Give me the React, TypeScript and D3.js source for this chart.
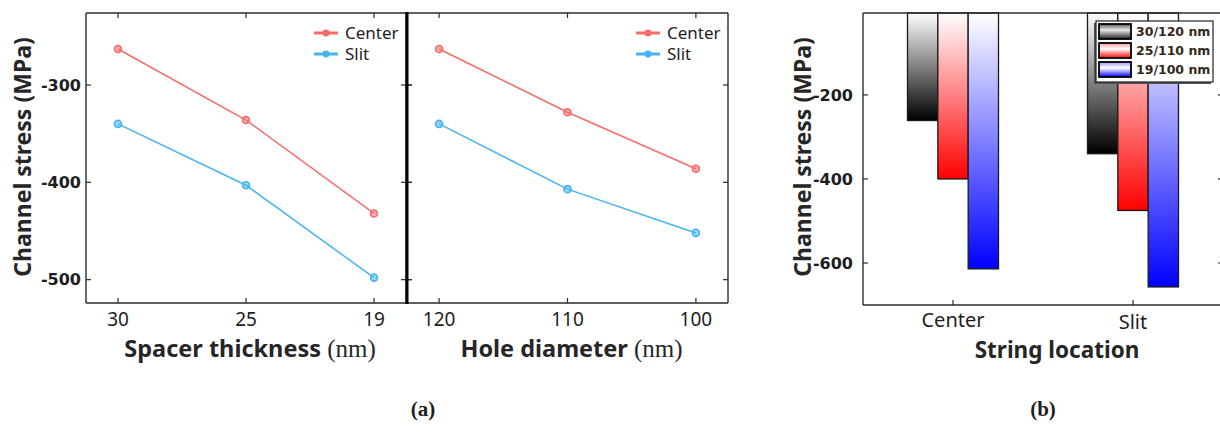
import React from "react";
import * as d3 from "d3";

// (a) channel stress vs spacer thickness / hole diameter
const spacerTicks = ["30", "25", "19"];
const holeTicks = ["120", "110", "100"];
const centerBySpacer = [-263, -336, -432];
const slitBySpacer = [-340, -403, -498];
const centerByHole = [-263, -328, -386];
const slitByHole = [-340, -407, -452];
const lineTicks = [-300, -400, -500];

// (b) channel stress by string location
const locations = ["Center", "Slit"];
const structures = ["30/120 nm", "25/110 nm", "19/100 nm"];
const centerStress = [-261, -400, -614];
const slitStress = [-340, -475, -657];
const barTicks = [-200, -400, -600];

const RED = "#f76b6b";
const BLUE = "#44b4f3";
const barColors = ["#000000", "#ff0000", "#0000ff"];
const AXIS = "#2b2b2b";
const TEXT = "#1e1e1e";
const sans = "'Noto Sans', 'Open Sans', sans-serif";
const wide = "'DejaVu Sans', Verdana, sans-serif";
const serif = "'Liberation Serif', 'DejaVu Serif', serif";

const A_TOP = 13;
const A_BOTTOM = 303;
const yA = d3.scaleLinear().domain([-524, -226]).range([A_BOTTOM, A_TOP]);

type LineProps = {
  left: number;
  right: number;
  cats: string[];
  center: number[];
  slit: number[];
  title: string;
  showLeft: boolean;
};

const LinePanel = ({ left, right, cats, center, slit, title, showLeft }: LineProps) => {
  const x = d3.scalePoint().domain(cats).range([left, right]).padding(0.25);
  const line = d3
    .line<number>()
    .x((_, i) => x(cats[i]) as number)
    .y((d) => yA(d));
  const marker = d3.symbol().type(d3.symbolCircle).size(38)();
  const series = [
    { name: "Center", values: center, color: RED },
    { name: "Slit", values: slit, color: BLUE },
  ];
  const mid = (left + right) / 2 + 4;

  return (
    <g>
      {/* frame */}
      <line x1={left} x2={right} y1={A_BOTTOM} y2={A_BOTTOM} stroke={AXIS} strokeWidth={1.4} />
      <line x1={left} x2={right} y1={A_TOP} y2={A_TOP} stroke={AXIS} strokeWidth={1.4} />
      {showLeft && <line x1={left} x2={left} y1={A_TOP} y2={A_BOTTOM} stroke={AXIS} strokeWidth={1.4} />}
      <line x1={right} x2={right} y1={A_TOP} y2={A_BOTTOM} stroke={AXIS} strokeWidth={1.4} />

      {cats.map((c) => (
        <g key={c}>
          <line x1={x(c)} x2={x(c)} y1={A_BOTTOM} y2={A_BOTTOM - 5} stroke={AXIS} strokeWidth={1.2} />
          <line x1={x(c)} x2={x(c)} y1={A_TOP} y2={A_TOP + 5} stroke={AXIS} strokeWidth={1.2} />
          <text x={x(c)} y={326} textAnchor="middle" fontFamily={sans} fontSize={19} fill={TEXT}>
            {c}
          </text>
        </g>
      ))}

      {lineTicks.map((t) => (
        <g key={t}>
          <line x1={left} x2={left + 5} y1={yA(t)} y2={yA(t)} stroke={AXIS} strokeWidth={1.2} />
          <line x1={right - 5} x2={right + (showLeft ? 6 : 0)} y1={yA(t)} y2={yA(t)} stroke={AXIS} strokeWidth={1.2} />
          {showLeft && (
            <text x={left - 5} y={yA(t)} dy="0.36em" textAnchor="end" fontFamily={wide} fontWeight="bold" fontSize={16} fill={TEXT}>
              {t}
            </text>
          )}
        </g>
      ))}

      {series.map((s) => (
        <g key={s.name}>
          <path d={line(s.values) as string} fill="none" stroke={s.color} strokeWidth={1.5} />
          {s.values.map((v, i) => (
            <path
              key={i}
              d={marker as string}
              transform={`translate(${x(cats[i])},${yA(v)})`}
              fill={s.color}
              fillOpacity={0.5}
              stroke={s.color}
              strokeWidth={1.7}
            />
          ))}
        </g>
      ))}

      {/* legend */}
      {series.map((s, i) => (
        <g key={s.name} transform={`translate(${right - 92},${33 + i * 21})`}>
          <line x1={0} x2={24} y1={0} y2={0} stroke={s.color} strokeWidth={3} />
          <path d={marker as string} transform="translate(12,0)" fill={s.color} />
          <text x={31} y={0} dy="0.35em" fontFamily={sans} fontSize={17} fill={TEXT}>
            {s.name}
          </text>
        </g>
      ))}

      <text x={mid} y={357} textAnchor="middle" fontFamily={sans} fontWeight="bold" fontSize={23.5} fill="#262626">
        {title}
        <tspan fontFamily={serif} fontWeight="normal" fontSize={25}>(nm)</tspan>
      </text>
    </g>
  );
};

const B_LEFT = 863;
const B_RIGHT = 1223;
const B_TOP = 13;
const B_BOTTOM = 305;

const BarPanel = () => {
  const x = d3.scalePoint().domain(locations).range([B_LEFT, B_RIGHT]).padding(0.5);
  const inner = d3.scaleBand().domain(structures).range([-45.5, 45.5]);
  const y = d3.scaleLinear().domain([-700, -5]).range([B_BOTTOM, B_TOP]);
  const rows = [centerStress, slitStress];

  return (
    <g>
      {locations.map((loc, li) =>
        structures.map((s, si) => (
          <rect
            key={loc + s}
            x={(x(loc) as number) + (inner(s) as number)}
            y={B_TOP}
            width={inner.bandwidth()}
            height={y(rows[li][si]) - B_TOP}
            fill={`url(#bar${si})`}
            stroke="#1a1a1a"
            strokeWidth={1.3}
          />
        ))
      )}

      <line x1={B_LEFT} x2={B_RIGHT} y1={B_BOTTOM} y2={B_BOTTOM} stroke={AXIS} strokeWidth={1.4} />
      <line x1={B_LEFT} x2={B_RIGHT} y1={B_TOP} y2={B_TOP} stroke={AXIS} strokeWidth={1.4} />
      <line x1={B_LEFT} x2={B_LEFT} y1={B_TOP} y2={B_BOTTOM} stroke={AXIS} strokeWidth={1.4} />
      <line x1={B_RIGHT} x2={B_RIGHT} y1={B_TOP} y2={B_BOTTOM} stroke={AXIS} strokeWidth={1.4} />

      {barTicks.map((t) => (
        <g key={t}>
          <line x1={B_LEFT} x2={B_LEFT + 5} y1={y(t)} y2={y(t)} stroke={AXIS} strokeWidth={1.2} />
          <line x1={B_RIGHT - 5} x2={B_RIGHT} y1={y(t)} y2={y(t)} stroke={AXIS} strokeWidth={1.2} />
          <text x={B_LEFT - 10} y={y(t)} dy="0.36em" textAnchor="end" fontFamily={wide} fontWeight="bold" fontSize={16} fill={TEXT}>
            {t}
          </text>
        </g>
      ))}

      {locations.map((loc, i) => (
        <g key={loc}>
          <line x1={x(loc)} x2={x(loc)} y1={B_BOTTOM} y2={B_BOTTOM - 5} stroke={AXIS} strokeWidth={1.2} />
          <text x={x(loc)} y={327 + i * 2} textAnchor="middle" fontFamily={sans} fontSize={20} fill={TEXT}>
            {loc}
          </text>
        </g>
      ))}

      <text x={1057} y={358} textAnchor="middle" fontFamily={sans} fontWeight="bold" fontSize={22.5} fill="#262626">
        String location
      </text>
      <text transform="translate(811,157) rotate(-90)" textAnchor="middle" fontFamily={sans} fontWeight="bold" fontSize={23} fill="#262626">
        Channel stress (MPa)
      </text>

      {/* legend */}
      <rect x={1094} y={23} width={117} height={61} fill="#555" />
      <rect x={1096} y={21} width={117} height={61} fill="#fff" stroke="#222" strokeWidth={1.2} />
      {structures.map((s, i) => (
        <g key={s} transform={`translate(1099,${24 + i * 19})`}>
          <rect width={32} height={15} fill={`url(#leg${i})`} stroke="#000" strokeWidth={1.8} />
          <text x={37} y={12} fontFamily={wide} fontWeight="bold" fontSize={12.5} fill="#33291a">
            {s}
          </text>
        </g>
      ))}
    </g>
  );
};

export default function App() {
  return (
    <div style={{ position: "absolute", left: 0, top: 0 }}>
      <svg width={1220} height={438} style={{ display: "block", background: "#fff" }}>
        <defs>
          {barColors.map((c, i) => (
            <linearGradient key={c} id={`bar${i}`} x1="0" y1="0" x2="0" y2="1">
              <stop offset="0" stopColor="#ffffff" />
              <stop offset="1" stopColor={c} />
            </linearGradient>
          ))}
          {barColors.map((c, i) => (
            <linearGradient key={c + "l"} id={`leg${i}`} x1="0" y1="0" x2="0" y2="1">
              <stop offset="0" stopColor={i === 0 ? "#555" : d3.interpolateRgb(c, "#fff")(0.6)} />
              <stop offset="0.4" stopColor={i === 0 ? "#e8e8e8" : "#ffffff"} />
              <stop offset="1" stopColor={i === 0 ? "#222" : c} />
            </linearGradient>
          ))}
        </defs>

        <text transform="translate(31,157) rotate(-90)" textAnchor="middle" fontFamily={sans} fontWeight="bold" fontSize={23} fill="#262626">
          Channel stress (MPa)
        </text>
        <LinePanel left={86} right={406} cats={spacerTicks} center={centerBySpacer} slit={slitBySpacer} title="Spacer thickness " showLeft={true} />
        <LinePanel left={407} right={728} cats={holeTicks} center={centerByHole} slit={slitByHole} title="Hole diameter " showLeft={false} />
        <line x1={407} x2={407} y1={A_TOP - 1} y2={A_BOTTOM + 1} stroke="#000" strokeWidth={3} />

        <BarPanel />

        <text x={423} y={416} textAnchor="middle" fontFamily={serif} fontWeight="bold" fontSize={21} fill={TEXT}>
          (a)
        </text>
        <text x={1043} y={416} textAnchor="middle" fontFamily={serif} fontWeight="bold" fontSize={21} fill={TEXT}>
          (b)
        </text>
      </svg>
    </div>
  );
}
